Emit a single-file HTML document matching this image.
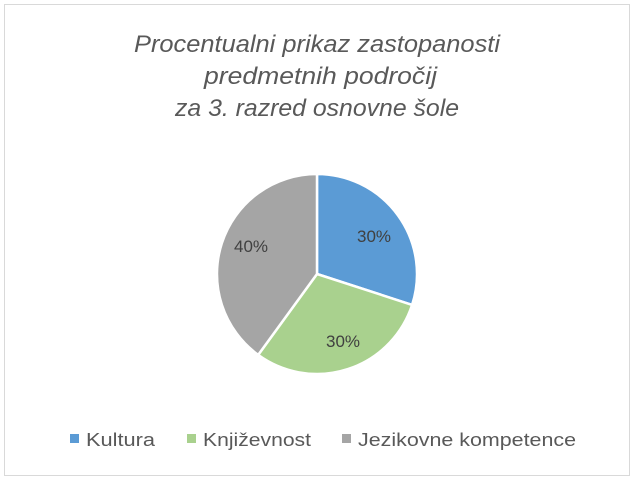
<!DOCTYPE html>
<html><head><meta charset="utf-8"><style>
html,body{margin:0;padding:0;background:#fff;}
</style></head><body>
<svg width="634" height="480" xmlns="http://www.w3.org/2000/svg" font-family="Liberation Sans, sans-serif">
<rect x="4.5" y="4.5" width="625" height="471" fill="#fff" stroke="#d9d9d9" stroke-width="1"/>
<g fill="#595959" font-style="italic" font-size="24">
<text x="134" y="52" textLength="366" lengthAdjust="spacingAndGlyphs">Procentualni prikaz zastopanosti</text>
<text x="204" y="84" textLength="233" lengthAdjust="spacingAndGlyphs">predmetnih področij</text>
<text x="175" y="116" textLength="284" lengthAdjust="spacingAndGlyphs">za 3. razred osnovne šole</text>
</g>
<g stroke="#fff" stroke-width="2.5" stroke-linejoin="round">
<path d="M317,274 L317,174 A100,100 0 0 1 412.1,304.9 Z" fill="#5b9bd5"/>
<path d="M317,274 L412.1,304.9 A100,100 0 0 1 258.2,354.9 Z" fill="#a9d18e"/>
<path d="M317,274 L258.2,354.9 A100,100 0 0 1 317,174 Z" fill="#a5a5a5"/>
</g>
<g fill="#404040" font-size="17" text-anchor="middle">
<text x="374" y="242">30%</text>
<text x="343" y="347">30%</text>
<text x="251" y="252">40%</text>
</g>
<g font-size="18" fill="#595959">
<rect x="70" y="434" width="9" height="9" fill="#5b9bd5"/>
<text x="86" y="446" textLength="69" lengthAdjust="spacingAndGlyphs">Kultura</text>
<rect x="187" y="434" width="9" height="9" fill="#a9d18e"/>
<text x="203" y="446" textLength="108" lengthAdjust="spacingAndGlyphs">Književnost</text>
<rect x="342" y="434" width="9" height="9" fill="#a5a5a5"/>
<text x="358" y="446" textLength="218" lengthAdjust="spacingAndGlyphs">Jezikovne kompetence</text>
</g>
</svg>
</body></html>
